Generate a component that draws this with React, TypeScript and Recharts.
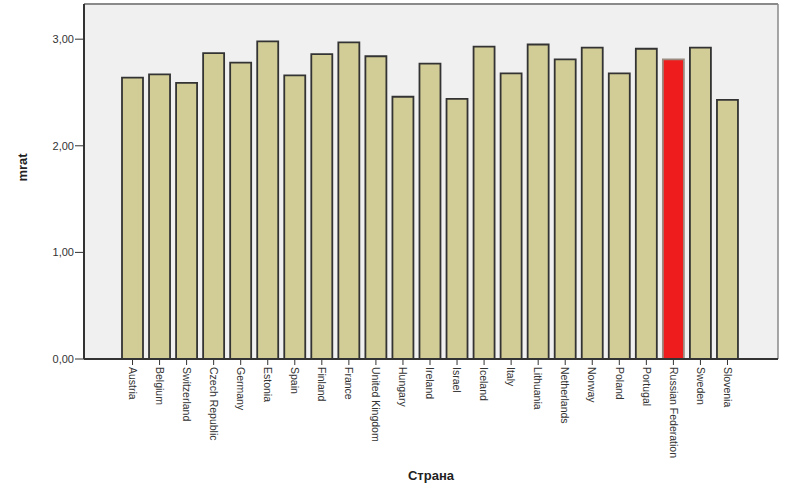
import { BarChart, Bar, XAxis, YAxis, CartesianGrid, Cell } from "recharts";

const countries = [
  "Austria", "Belgium", "Switzerland", "Czech Republic", "Germany", "Estonia",
  "Spain", "Finland", "France", "United Kingdom", "Hungary", "Ireland",
  "Israel", "Iceland", "Italy", "Lithuania", "Netherlands", "Norway",
  "Poland", "Portugal", "Russian Federation", "Sweden", "Slovenia",
];

const mrat = [
  2.64, 2.67, 2.59, 2.87, 2.78, 2.98,
  2.66, 2.86, 2.97, 2.84, 2.46, 2.77,
  2.44, 2.93, 2.68, 2.95, 2.81, 2.92,
  2.68, 2.91, 2.81, 2.92, 2.43,
];

const yTicks = [0, 1, 2, 3];
const highlighted = "Russian Federation";

const data = countries.map((c, i) => ({ country: c, mrat: mrat[i] }));

function fmt(v: number) {
  return v.toFixed(2).replace(".", ",");
}

function CountryTick(props: any) {
  const { x, y, payload } = props;
  return (
    <g transform={`translate(${x},${y})`}>
      <text
        transform="rotate(90)"
        x={0}
        y={0}
        dy="0.36em"
        textAnchor="start"
        fontSize={10.5}
        fontFamily="Liberation Sans, Arial, sans-serif"
        fill="#333"
      >
        {payload.value}
      </text>
    </g>
  );
}

export default function App() {
  return (
    <div style={{ position: "absolute", left: 0, top: 0, background: "#fff" }}>
      <BarChart
        width={798}
        height={492}
        data={data}
        margin={{ top: 3, right: 19, bottom: 8, left: 0 }}
      >
        <CartesianGrid fill="#f0f0f0" horizontal={false} vertical={false} />
        <XAxis
          xAxisId="top"
          orientation="top"
          dataKey="country"
          tick={false}
          tickLine={false}
          height={1}
          axisLine={{ stroke: "#8a8a8a", strokeWidth: 2 }}
        />
        <YAxis
          yAxisId="right"
          orientation="right"
          tick={false}
          tickLine={false}
          width={1}
          domain={[0, 3.33]}
          axisLine={{ stroke: "#8a8a8a", strokeWidth: 1.5 }}
        />
        <XAxis
          dataKey="country"
          interval={0}
          height={125}
          padding={{ left: 35, right: 37 }}
          tick={<CountryTick />}
          tickSize={6}
          tickLine={{ stroke: "#333" }}
          axisLine={{ stroke: "#333", strokeWidth: 2 }}
          label={{
            value: "Страна",
            position: "insideBottom",
            offset: 4,
            fontSize: 13,
            fontWeight: "bold",
            fill: "#222",
            fontFamily: "Liberation Sans, Arial, sans-serif",
          }}
        />
        <YAxis
          width={84}
          domain={[0, 3.33]}
          ticks={yTicks}
          tickFormatter={fmt}
          tickSize={9}
          tickMargin={1}
          tickLine={{ stroke: "#333" }}
          axisLine={{ stroke: "#333", strokeWidth: 2 }}
          tick={{ fontSize: 11, fill: "#333", fontFamily: "Liberation Sans, Arial, sans-serif" }}
          label={{
            value: "mrat",
            angle: -90,
            position: "insideLeft",
            offset: 22,
            fontSize: 13,
            fontWeight: "bold",
            fill: "#222",
            fontFamily: "Liberation Sans, Arial, sans-serif",
          }}
        />
        <Bar
          dataKey="mrat"
          barSize={21}
          fill="#d2cc96"
          stroke="#333"
          strokeWidth={1.8}
          isAnimationActive={false}
        >
          {data.map((d) => (
            <Cell
              key={d.country}
              fill={d.country === highlighted ? "#ee1c1c" : "#d2cc96"}
              stroke={d.country === highlighted ? "#9a8a80" : "#333"}
            />
          ))}
        </Bar>
      </BarChart>
    </div>
  );
}
